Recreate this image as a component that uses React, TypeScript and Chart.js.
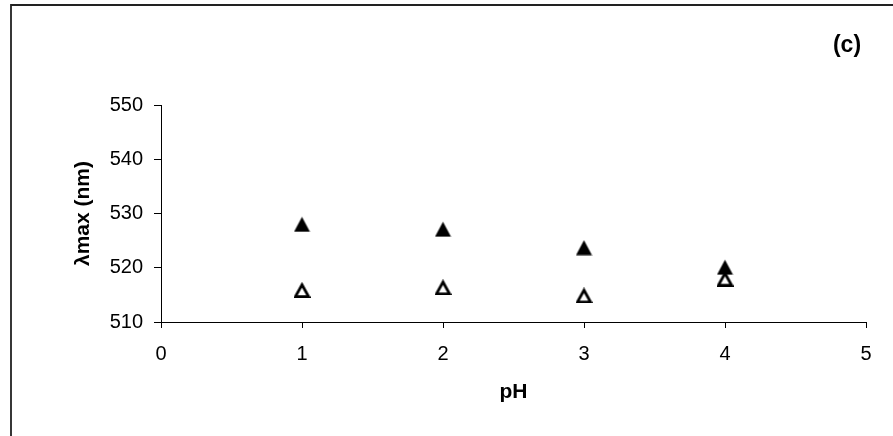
import React, { useEffect, useRef } from "react";
import { Chart, registerables } from "chart.js";

Chart.register(...registerables);

// pH values and absorption maxima for the two series
const phValues = [1, 2, 3, 4];
const lambdaFilled = [528.0, 527.1, 523.7, 520.1];
const lambdaOpen = [515.9, 516.4, 514.9, 518.0];

const xTicks = [0, 1, 2, 3, 4, 5];
const yTicks = [510, 520, 530, 540, 550];

const FONT = "'Liberation Sans', Arial, sans-serif";

function makeTriangle(filled: boolean): HTMLCanvasElement {
  const w = 17;
  const h = 16;
  const c = document.createElement("canvas");
  c.width = w;
  c.height = h;
  const ctx = c.getContext("2d")!;
  ctx.beginPath();
  if (filled) {
    ctx.moveTo(w / 2, 0.5);
    ctx.lineTo(w - 0.5, h - 0.5);
    ctx.lineTo(0.5, h - 0.5);
    ctx.closePath();
    ctx.fillStyle = "#000";
    ctx.fill();
  } else {
    const lw = 2.8;
    ctx.moveTo(w / 2, lw);
    ctx.lineTo(w - lw / 2 - 0.5, h - lw / 2);
    ctx.lineTo(lw / 2 + 0.5, h - lw / 2);
    ctx.closePath();
    ctx.fillStyle = "#fff";
    ctx.fill();
    ctx.lineWidth = lw;
    ctx.lineJoin = "miter";
    ctx.strokeStyle = "#000";
    ctx.stroke();
  }
  return c;
}

// Outer frame and the panel tag "(c)"
const framePlugin = {
  id: "frame",
  afterDraw(chart: any) {
    const ctx = chart.ctx;
    ctx.save();
    ctx.strokeStyle = "#222";
    ctx.lineWidth = 1.8;
    ctx.beginPath();
    ctx.moveTo(11, 440);
    ctx.lineTo(11, 5);
    ctx.lineTo(900, 5);
    ctx.stroke();
    ctx.fillStyle = "#000";
    ctx.font = `bold 23px ${FONT}`;
    ctx.textAlign = "center";
    ctx.textBaseline = "middle";
    ctx.fillText("(c)", 847, 46);
    ctx.restore();
  },
};

export default function App() {
  const ref = useRef<HTMLCanvasElement>(null);

  useEffect(() => {
    const filledImg = makeTriangle(true);
    const openImg = makeTriangle(false);
    const chart = new Chart(ref.current!, {
      type: "scatter",
      data: {
        datasets: [
          {
            label: "open",
            data: phValues.map((x, i) => ({ x, y: lambdaOpen[i] })),
            pointStyle: openImg as any,
            order: 0,
          },
          {
            label: "filled",
            data: phValues.map((x, i) => ({ x, y: lambdaFilled[i] })),
            pointStyle: filledImg as any,
            order: 1,
          },
        ],
      },
      options: {
        responsive: false,
        animation: false,
        devicePixelRatio: 1,
        layout: { padding: { left: 0, top: 105, right: 27, bottom: 0 } },
        plugins: {
          legend: { display: false },
          tooltip: { enabled: false },
        },
        scales: {
          x: {
            type: "linear",
            min: 0,
            max: 5,
            afterFit: (s: any) => {
              s.height = 114;
            },
            afterBuildTicks: (s: any) => {
              s.ticks = xTicks.map((v) => ({ value: v }));
            },
            ticks: {
              color: "#000",
              font: { family: FONT, size: 20 },
              padding: 14,
            },
            grid: {
              drawOnChartArea: false,
              drawTicks: true,
              tickLength: 6,
              color: "#000",
            },
            border: { display: true, color: "#000", width: 1 },
            title: {
              display: true,
              text: "pH",
              color: "#000",
              font: { family: FONT, size: 21, weight: "bold" },
              padding: { top: 0, bottom: 31 },
            },
          },
          y: {
            type: "linear",
            min: 510,
            max: 550,
            afterFit: (s: any) => {
              s.width = 161;
            },
            afterBuildTicks: (s: any) => {
              s.ticks = yTicks.map((v) => ({ value: v }));
            },
            ticks: {
              color: "#000",
              font: { family: FONT, size: 20 },
              padding: 11,
            },
            grid: {
              drawOnChartArea: false,
              drawTicks: true,
              tickLength: 7,
              color: "#000",
            },
            border: { display: true, color: "#000", width: 1 },
            title: {
              display: true,
              text: "λmax (nm)",
              color: "#000",
              font: { family: FONT, size: 21, weight: "bold" },
              padding: { top: 71, bottom: 0 },
            },
          },
        },
      },
      plugins: [framePlugin],
    });
    return () => chart.destroy();
  }, []);

  return (
    <div style={{ position: "absolute", left: 0, top: 0, width: 893, height: 436, background: "#fff" }}>
      <canvas ref={ref} width={893} height={436} />
    </div>
  );
}
